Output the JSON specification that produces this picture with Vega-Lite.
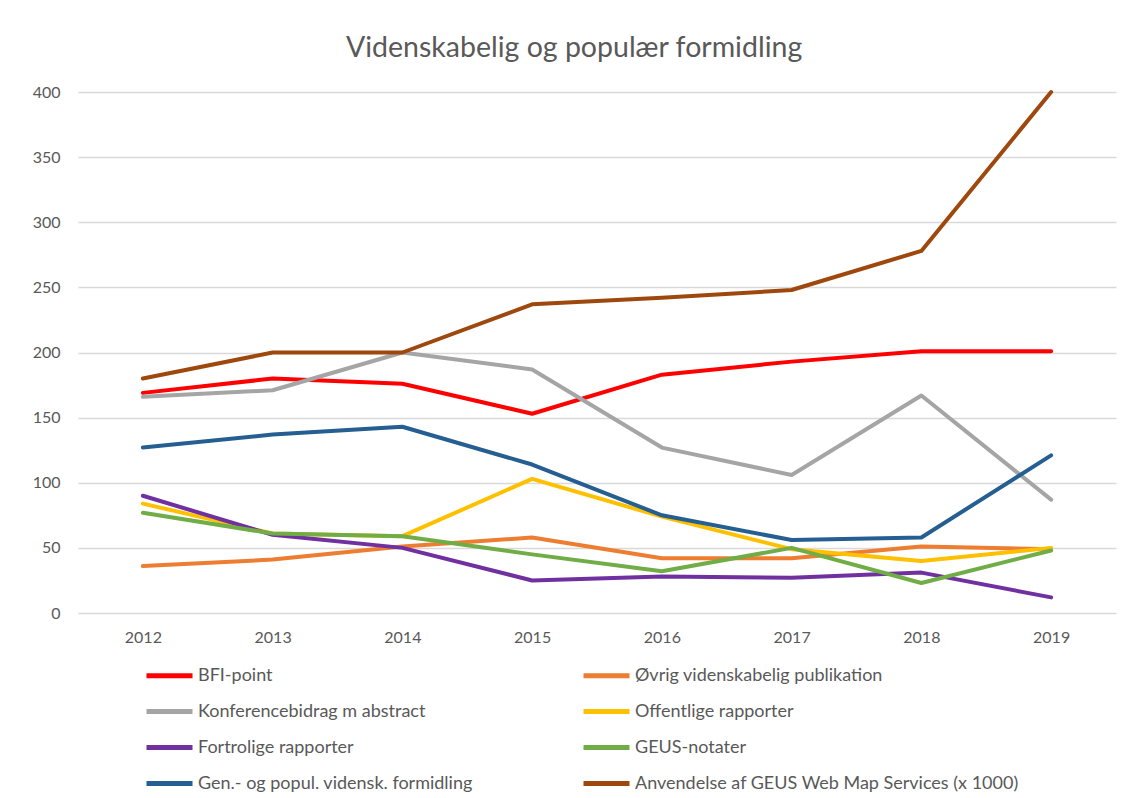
{
  "$schema": "https://vega.github.io/schema/vega-lite/v6.json",
  "autosize": {"type": "none"},
  "width": 1038,
  "height": 521,
  "padding": {"left": 78, "top": 92, "right": 14, "bottom": 185},
  "background": "#ffffff",
  "title": {
    "text": "Videnskabelig og populær formidling",
    "font": "Lato",
    "fontSize": 28.5,
    "fontWeight": "normal",
    "color": "#595959",
    "anchor": "middle",
    "frame": "bounds",
    "offset": 22
  },
  "data": {
    "values": [
      {"year": "2012", "series": "BFI-point", "value": 169},
      {"year": "2013", "series": "BFI-point", "value": 180},
      {"year": "2014", "series": "BFI-point", "value": 176},
      {"year": "2015", "series": "BFI-point", "value": 153},
      {"year": "2016", "series": "BFI-point", "value": 183},
      {"year": "2017", "series": "BFI-point", "value": 193},
      {"year": "2018", "series": "BFI-point", "value": 201},
      {"year": "2019", "series": "BFI-point", "value": 201},
      {"year": "2012", "series": "Øvrig videnskabelig publikation", "value": 36},
      {"year": "2013", "series": "Øvrig videnskabelig publikation", "value": 41},
      {"year": "2014", "series": "Øvrig videnskabelig publikation", "value": 51},
      {"year": "2015", "series": "Øvrig videnskabelig publikation", "value": 58},
      {"year": "2016", "series": "Øvrig videnskabelig publikation", "value": 42},
      {"year": "2017", "series": "Øvrig videnskabelig publikation", "value": 42},
      {"year": "2018", "series": "Øvrig videnskabelig publikation", "value": 51},
      {"year": "2019", "series": "Øvrig videnskabelig publikation", "value": 49},
      {"year": "2012", "series": "Konferencebidrag m abstract", "value": 166},
      {"year": "2013", "series": "Konferencebidrag m abstract", "value": 171},
      {"year": "2014", "series": "Konferencebidrag m abstract", "value": 200},
      {"year": "2015", "series": "Konferencebidrag m abstract", "value": 187},
      {"year": "2016", "series": "Konferencebidrag m abstract", "value": 127},
      {"year": "2017", "series": "Konferencebidrag m abstract", "value": 106},
      {"year": "2018", "series": "Konferencebidrag m abstract", "value": 167},
      {"year": "2019", "series": "Konferencebidrag m abstract", "value": 87},
      {"year": "2012", "series": "Offentlige rapporter", "value": 84},
      {"year": "2013", "series": "Offentlige rapporter", "value": 61},
      {"year": "2014", "series": "Offentlige rapporter", "value": 59},
      {"year": "2015", "series": "Offentlige rapporter", "value": 103},
      {"year": "2016", "series": "Offentlige rapporter", "value": 74},
      {"year": "2017", "series": "Offentlige rapporter", "value": 49},
      {"year": "2018", "series": "Offentlige rapporter", "value": 40},
      {"year": "2019", "series": "Offentlige rapporter", "value": 50},
      {"year": "2012", "series": "Fortrolige rapporter", "value": 90},
      {"year": "2013", "series": "Fortrolige rapporter", "value": 60},
      {"year": "2014", "series": "Fortrolige rapporter", "value": 50},
      {"year": "2015", "series": "Fortrolige rapporter", "value": 25},
      {"year": "2016", "series": "Fortrolige rapporter", "value": 28},
      {"year": "2017", "series": "Fortrolige rapporter", "value": 27},
      {"year": "2018", "series": "Fortrolige rapporter", "value": 31},
      {"year": "2019", "series": "Fortrolige rapporter", "value": 12},
      {"year": "2012", "series": "GEUS-notater", "value": 77},
      {"year": "2013", "series": "GEUS-notater", "value": 61},
      {"year": "2014", "series": "GEUS-notater", "value": 59},
      {"year": "2015", "series": "GEUS-notater", "value": 45},
      {"year": "2016", "series": "GEUS-notater", "value": 32},
      {"year": "2017", "series": "GEUS-notater", "value": 50},
      {"year": "2018", "series": "GEUS-notater", "value": 23},
      {"year": "2019", "series": "GEUS-notater", "value": 48},
      {"year": "2012", "series": "Gen.- og popul. vidensk. formidling", "value": 127},
      {"year": "2013", "series": "Gen.- og popul. vidensk. formidling", "value": 137},
      {"year": "2014", "series": "Gen.- og popul. vidensk. formidling", "value": 143},
      {"year": "2015", "series": "Gen.- og popul. vidensk. formidling", "value": 114},
      {"year": "2016", "series": "Gen.- og popul. vidensk. formidling", "value": 75},
      {"year": "2017", "series": "Gen.- og popul. vidensk. formidling", "value": 56},
      {"year": "2018", "series": "Gen.- og popul. vidensk. formidling", "value": 58},
      {"year": "2019", "series": "Gen.- og popul. vidensk. formidling", "value": 121},
      {"year": "2012", "series": "Anvendelse af GEUS Web Map Services (x 1000)", "value": 180},
      {"year": "2013", "series": "Anvendelse af GEUS Web Map Services (x 1000)", "value": 200},
      {"year": "2014", "series": "Anvendelse af GEUS Web Map Services (x 1000)", "value": 200},
      {"year": "2015", "series": "Anvendelse af GEUS Web Map Services (x 1000)", "value": 237},
      {"year": "2016", "series": "Anvendelse af GEUS Web Map Services (x 1000)", "value": 242},
      {"year": "2017", "series": "Anvendelse af GEUS Web Map Services (x 1000)", "value": 248},
      {"year": "2018", "series": "Anvendelse af GEUS Web Map Services (x 1000)", "value": 278},
      {"year": "2019", "series": "Anvendelse af GEUS Web Map Services (x 1000)", "value": 400}
    ]
  },
  "mark": {"type": "line", "strokeWidth": 4, "strokeCap": "round", "strokeJoin": "round"},
  "encoding": {
    "x": {
      "field": "year",
      "type": "ordinal",
      "scale": {"type": "point", "padding": 0.5},
      "axis": {
        "title": null,
        "labelAngle": 0,
        "domain": false,
        "ticks": false,
        "grid": false,
        "labelFont": "Lato",
        "labelFontSize": 16,
        "labelColor": "#595959",
        "labelPadding": 16
      }
    },
    "y": {
      "field": "value",
      "type": "quantitative",
      "scale": {"domain": [0, 400], "nice": false},
      "axis": {
        "title": null,
        "values": [0, 50, 100, 150, 200, 250, 300, 350, 400],
        "domain": false,
        "ticks": false,
        "grid": true,
        "gridColor": "#D9D9D9",
        "gridWidth": 1.5,
        "labelFont": "Lato",
        "labelFontSize": 16,
        "labelColor": "#595959",
        "labelPadding": 18
      }
    },
    "color": {
      "field": "series",
      "type": "nominal",
      "scale": {
        "domain": [
          "BFI-point",
          "Øvrig videnskabelig publikation",
          "Konferencebidrag m abstract",
          "Offentlige rapporter",
          "Fortrolige rapporter",
          "GEUS-notater",
          "Gen.- og popul. vidensk. formidling",
          "Anvendelse af GEUS Web Map Services (x 1000)"
        ],
        "range": ["#FF0000", "#ED7D31", "#A5A5A5", "#FFC000", "#7030A0", "#70AD47", "#255E91", "#9E480E"]
      },
      "legend": {
        "title": null,
        "orient": "none",
        "direction": "horizontal",
        "legendX": 66,
        "legendY": 558,
        "columns": 2,
        "gridAlign": "each",
        "columnPadding": 100,
        "rowPadding": -16.5,
        "symbolType": "stroke",
        "symbolSize": 2116,
        "symbolStrokeWidth": 5,
        "labelOffset": 3,
        "labelFont": "Lato",
        "labelFontSize": 18,
        "labelColor": "#595959",
        "labelLimit": 500
      }
    },
    "order": {"field": "year"}
  },
  "config": {"view": {"stroke": null}}
}
